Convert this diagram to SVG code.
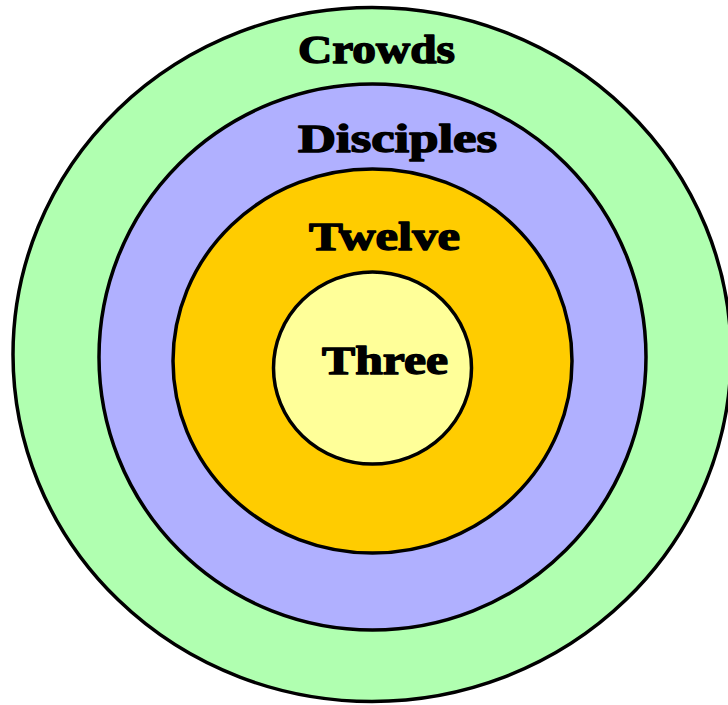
<svg xmlns="http://www.w3.org/2000/svg" width="728" height="705" viewBox="0 0 728 705">
<style>
.ring{stroke:#000;stroke-width:3.5}
.lbl{font-family:"Liberation Serif","DejaVu Serif",serif;font-weight:bold;font-size:39px;fill:#000;stroke:#000;stroke-width:1.4;stroke-linejoin:round}
</style>
<rect width="728" height="705" fill="#fff"/>
<g id="crowds">
<ellipse class="ring" cx="372" cy="354.5" rx="359" ry="347" fill="#B0FFB0"/>
<text class="lbl" x="298" y="63" textLength="157" lengthAdjust="spacingAndGlyphs">Crowds</text>
</g>
<g id="disciples">
<ellipse class="ring" cx="372.5" cy="357" rx="273.5" ry="273" fill="#B0B0FF"/>
<text class="lbl" x="298" y="152" textLength="199" lengthAdjust="spacingAndGlyphs">Disciples</text>
</g>
<g id="twelve">
<ellipse class="ring" cx="372.5" cy="361" rx="199.5" ry="192" fill="#FFCC00"/>
<text class="lbl" x="309" y="250" textLength="151" lengthAdjust="spacingAndGlyphs">Twelve</text>
</g>
<g id="three">
<ellipse class="ring" cx="372.5" cy="368" rx="99" ry="96" fill="#FFFF99" stroke-width="4"/>
<text class="lbl" x="322" y="374" textLength="126" lengthAdjust="spacingAndGlyphs">Three</text>
</g>
<g id="connectors"/>
</svg>
